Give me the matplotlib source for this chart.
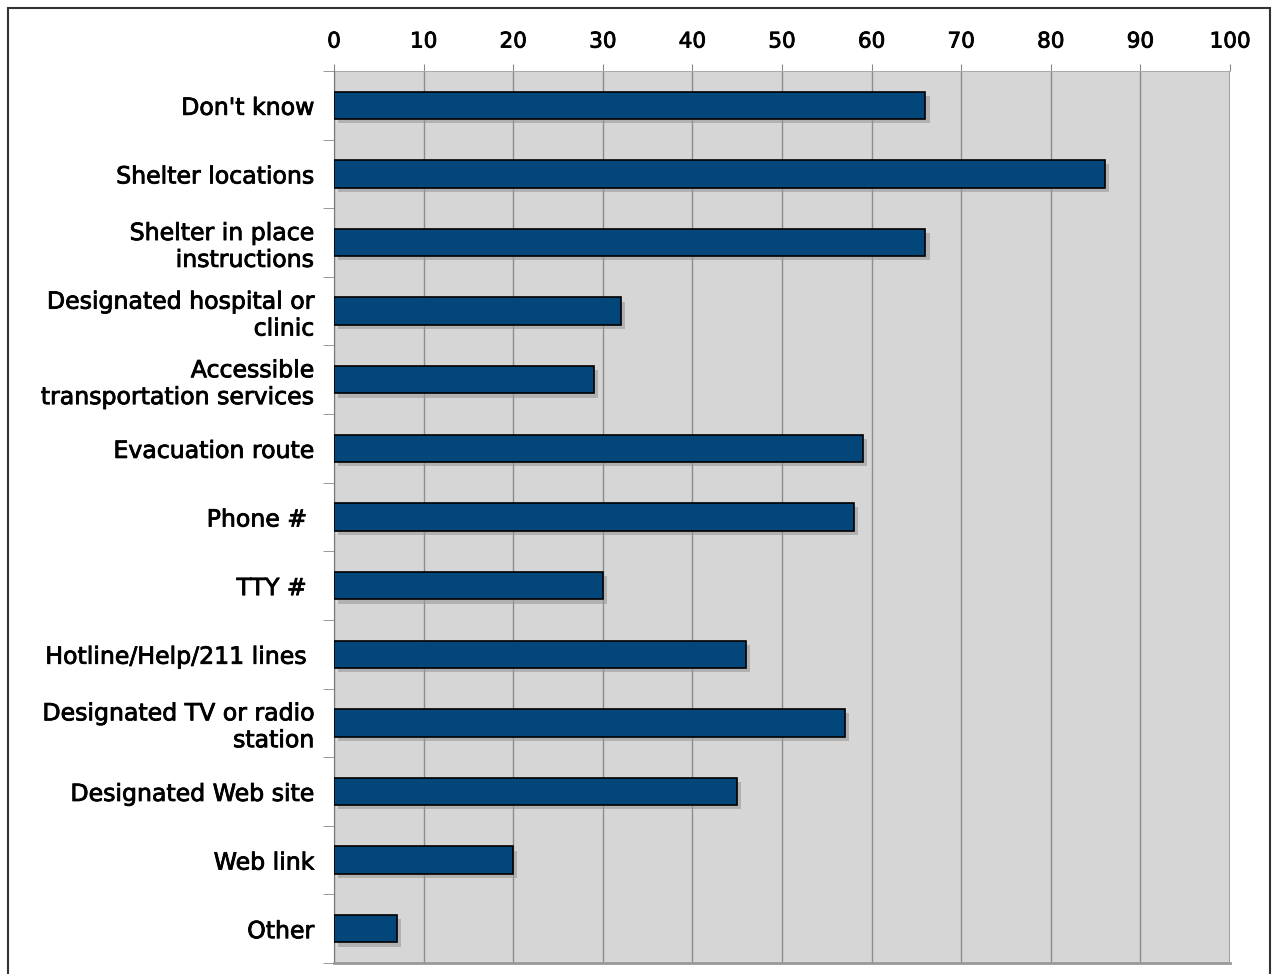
import numpy as np
import matplotlib.pyplot as plt
import matplotlib.patheffects as pe
from matplotlib.patches import Rectangle

categories = ["Don't know", "Shelter locations", "Shelter in place\ninstructions",
              "Designated hospital or\nclinic", "Accessible\ntransportation services",
              "Evacuation route", "Phone # ", "TTY # ", "Hotline/Help/211 lines ",
              "Designated TV or radio\nstation", "Designated Web site", "Web link", "Other"]
values = [66, 86, 66, 32, 29, 59, 58, 30, 46, 57, 45, 20, 7]
xticks = list(range(0, 101, 10))

fig = plt.figure(figsize=(12.72, 9.74), dpi=100)
ax = fig.add_axes([334/1272, 1-963/974, (1230-334)/1272, (963-71)/974])

# frame around the whole figure (bottom edge runs off the page)
fig.patches.append(Rectangle((8/1272, -0.01), (1270-8)/1272, 1-8/974+0.01,
                             transform=fig.transFigure, fill=False,
                             edgecolor='#333333', lw=1.5))

y = np.arange(len(categories))
ax.barh(y, values, height=0.4, color='#03467a', edgecolor='black', lw=1.2, zorder=3,
        path_effects=[pe.SimplePatchShadow(offset=(3, -3), shadow_rgbFace='#999999', alpha=0.6),
                      pe.Normal()])

ax.set_facecolor('#d6d6d6')
ax.set_xlim(0, 100)
ax.set_ylim(len(categories)-0.5, -0.5)
ax.xaxis.tick_top()
ax.set_xticks(xticks)
ax.tick_params(axis='x', length=5, color='#888888', labelsize=15.5, pad=9)
ax.grid(axis='x', color='#8c8c8c', lw=1, zorder=1)

ax.set_yticks(y)
ax.set_yticklabels(categories, fontsize=17, linespacing=1.15)
ax.set_yticks(np.arange(len(categories)+1)-0.5, minor=True)
ax.tick_params(axis='y', which='major', length=0, pad=14)
ax.tick_params(axis='y', which='minor', length=8, color='#888888')

# slightly heavier text strokes
heavy = [pe.withStroke(linewidth=0.6, foreground='black')]
for t in ax.get_xticklabels() + ax.get_yticklabels():
    t.set_path_effects(heavy)

for s in ['top', 'right']:
    ax.spines[s].set_visible(False)
ax.spines['left'].set_color('#777777')
ax.spines['bottom'].set_color('#999999')
ax.spines['bottom'].set_linewidth(2)
ax.axhline(-0.5, color='#aaaaaa', lw=1.5, zorder=2)
ax.axvline(100, color='#999999', lw=2, zorder=2)

fig.savefig('out.png', dpi=100)
